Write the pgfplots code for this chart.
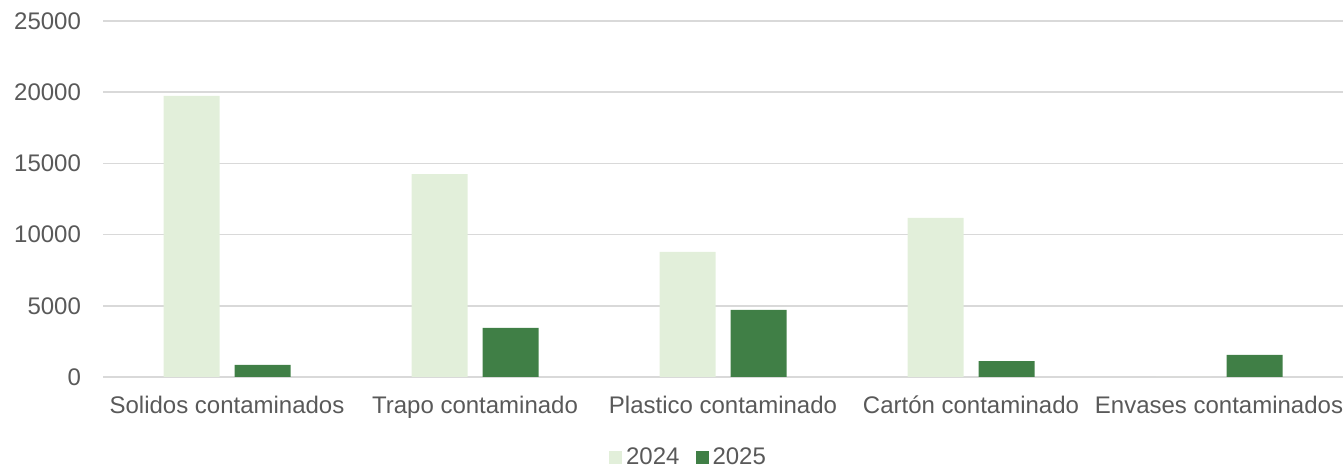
\documentclass[border=0pt]{standalone}
\usepackage{pgfplots}
\pgfplotsset{compat=1.18}
\usepackage{fontspec}
\setmainfont{Liberation Sans}
\definecolor{txt}{HTML}{595959}
\definecolor{gridc}{HTML}{D9D9D9}
\definecolor{light}{HTML}{E2EFDA}
\definecolor{dark}{HTML}{407F46}
\begin{document}
\begin{tikzpicture}
\path[use as bounding box] (0,0) rectangle (671.5pt,234.5pt);
\begin{axis}[
  at={(51.5pt,46pt)}, anchor=south west,
  scale only axis, width=620pt, height=178pt,
  xmin=-0.5, xmax=4.5, ymin=0, ymax=25000,
  ybar, bar width=28pt,
  xtick={0,1,2,3,4},
  xticklabels={Solidos contaminados,Trapo contaminado,Plastico contaminado,Cartón contaminado,Envases contaminados},
  ytick={0,5000,10000,15000,20000,25000},
  scaled y ticks=false,
  yticklabel style={/pgf/number format/fixed,/pgf/number format/set thousands separator={}},
  /pgf/number format/assume math mode=true,
  tick label style={font=\fontsize{12}{14}\selectfont, text=txt},
  xticklabel style={yshift=-6pt},
  yticklabel style={xshift=-7.5pt},
  major tick length=0pt,
  ymajorgrids, grid style={gridc, line width=0.85pt},
  axis x line*=bottom, axis y line*=left,
  x axis line style={gridc, line width=0.85pt, -},
  y axis line style={draw=none},
  legend style={at={(0.473,-0.2275)}, anchor=center, draw=none, fill=none,
    font=\fontsize{12}{14}\selectfont, text=txt, legend columns=2,
    /tikz/every even column/.append style={column sep=6pt}},
  legend image code/.code={\fill[#1] (0pt,-3.25pt) rectangle (6.5pt,3.25pt);},
]
\addplot[fill=light, draw=none, bar shift=-17.75pt] coordinates {(0,19750) (1,14250) (2,8780) (3,11170) (4,0)};
\addplot[fill=dark, draw=none, bar shift=17.75pt] coordinates {(0,850) (1,3450) (2,4720) (3,1120) (4,1550)};
\legend{2024,2025}
\end{axis}
\end{tikzpicture}
\end{document}
